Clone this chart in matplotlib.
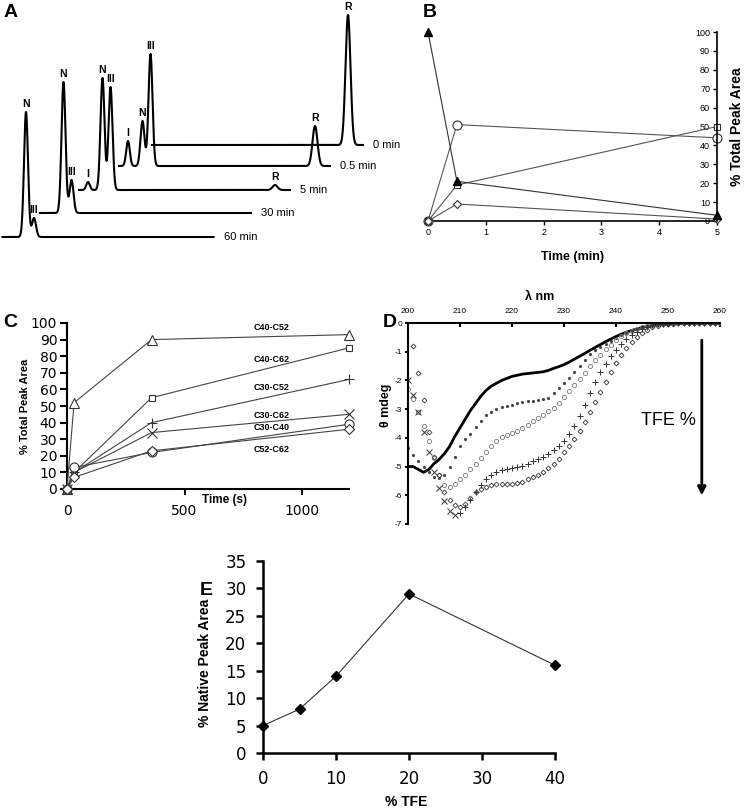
import matplotlib
matplotlib.use('Agg')
import matplotlib.pyplot as plt
import numpy as np

plt.rcParams['font.family'] = ['Liberation Sans', 'DejaVu Sans']
plt.rcParams['axes.unicode_minus'] = False

# ---- panel A: chromatograms (peak table per time point) ----
trace_names = ['0 min', '0.5 min', '5 min', '30 min', '60 min']
peak_names = ['I', 'N', 'III', 'R']
peak_times = [9, 23.5, 31.5, 196]
peak_widths = [1.8, 2.0, 2.0, 2.5]
peak_heights = [
    [0, 0, 0, 130],
    [25, 45, 112, 40],
    [8, 112, 103, 5],
    [0, 131, 33, 0],
    [0, 125, 19, 0],
]

# ---- panel B ----
b_time = [0, 0.5, 5]
b_filled_tri = [100, 21, 3]
b_circle = [0, 51, 44]
b_square = [0, 19, 50]
b_diamond = [0, 9, 1]

# ---- panel C ----
c_time = [0, 30, 360, 1200]
c_names = ['C40-C52', 'C40-C62', 'C30-C52', 'C30-C62', 'C30-C40', 'C52-C62']
c_values = {
    'C40-C52': [0, 52, 90, 93],
    'C40-C62': [0, 10, 55, 85],
    'C30-C52': [0, 10, 40, 66],
    'C30-C62': [0, 10, 34, 45],
    'C30-C40': [0, 13, 22, 39],
    'C52-C62': [0, 7, 23, 36],
}

# ---- panel D: CD spectra, 200-260 nm ----
d_wl = list(range(200, 261))
d_tfe0 = [-5.0, -5.0, -5.1, -5.2, -5.1, -4.9, -4.75, -4.55, -4.3, -3.95,
          -3.65, -3.35, -3.05, -2.8, -2.55, -2.35, -2.2, -2.1, -2.0, -1.93,
          -1.86, -1.82, -1.78, -1.76, -1.74, -1.72, -1.7, -1.65, -1.58, -1.52,
          -1.45, -1.36, -1.26, -1.16, -1.06, -0.95, -0.85, -0.75, -0.65, -0.56,
          -0.47, -0.39, -0.32, -0.26, -0.21, -0.16, -0.12, -0.09, -0.06, -0.04,
          -0.03, -0.02, -0.02, -0.01, -0.01, 0, 0, 0, 0, 0, 0]
d_tfe1 = [-4.35, -4.6, -4.8, -5.0, -5.2, -5.35, -5.4, -5.3, -5.0, -4.65,
          -4.3, -4.05, -3.85, -3.62, -3.4, -3.22, -3.1, -3.0, -2.93, -2.88,
          -2.84, -2.8, -2.76, -2.72, -2.7, -2.68, -2.66, -2.6, -2.45, -2.28,
          -2.1, -1.9, -1.7, -1.5, -1.28, -1.08, -0.95, -0.83, -0.72, -0.62,
          -0.52, -0.43, -0.35, -0.28, -0.22, -0.17, -0.12, -0.09, -0.06, -0.04,
          -0.03, -0.02, -0.01, 0, 0, 0, 0, 0, 0, 0, 0]
d_tfe2 = [-2.3, -2.65, -3.1, -3.6, -4.1, -4.7, -5.3, -5.65, -5.72, -5.6,
          -5.45, -5.3, -5.1, -4.9, -4.7, -4.5, -4.3, -4.1, -3.98, -3.9,
          -3.84, -3.75, -3.65, -3.55, -3.43, -3.32, -3.2, -3.08, -2.95, -2.78,
          -2.58, -2.38, -2.17, -1.95, -1.73, -1.51, -1.3, -1.1, -0.92, -0.75,
          -0.6, -0.47, -0.36, -0.27, -0.2, -0.14, -0.1, -0.07, -0.05, -0.03,
          -0.02, -0.01, 0, 0, 0, 0, 0, 0, 0, 0, 0]
d_tfe3 = [-2.0, -2.5, -3.1, -3.8, -4.5, -5.2, -5.75, -6.2, -6.55, -6.68,
          -6.6, -6.4, -6.15, -5.9, -5.65, -5.45, -5.28, -5.18, -5.12, -5.08,
          -5.05, -5.02, -4.97, -4.9, -4.82, -4.74, -4.65, -4.55, -4.43, -4.3,
          -4.1, -3.87, -3.58, -3.23, -2.85, -2.45, -2.07, -1.72, -1.42, -1.15,
          -0.93, -0.74, -0.56, -0.42, -0.3, -0.2, -0.13, -0.08, -0.05, -0.03,
          -0.02, -0.01, 0, 0, 0, 0, 0, 0, 0, 0, 0]
d_tfe4 = [np.nan, -0.8, -1.75, -2.67, -3.78, -4.65, -5.3, -5.87, -6.15, -6.34,
          -6.4, -6.3, -6.1, -5.9, -5.78, -5.7, -5.65, -5.62, -5.6, -5.6,
          -5.59, -5.58, -5.52, -5.45, -5.36, -5.28, -5.18, -5.05, -4.9, -4.72,
          -4.5, -4.3, -4.05, -3.77, -3.45, -3.1, -2.75, -2.4, -2.05, -1.72,
          -1.4, -1.12, -0.87, -0.66, -0.48, -0.34, -0.23, -0.15, -0.09, -0.05,
          -0.03, -0.02, -0.01, 0, 0, 0, 0, 0, 0, 0, 0]

# ---- panel E ----
e_tfe = [0, 5, 10, 20, 40]
e_native = [5, 8, 14, 29, 16]

W, H = 745, 809
fig = plt.figure(figsize=(W / 100, H / 100), dpi=100)


def px_axes(left, top, right, bottom):
    return fig.add_axes([left / W, 1 - bottom / H, (right - left) / W, (bottom - top) / H])


# layout of the stacked traces (x shift / baseline, in panel pixels)
trace_shift = [152, 119, 79, 40, 2.5]
trace_base = [100, 79, 55, 32, 8]

axA = px_axes(0, 0, 380, 245)
axA.set_xlim(0, 380)
axA.set_ylim(0, 245)
axA.axis('off')
rt = np.linspace(0, 211, 1500)
for name, heights, xs, yb in zip(trace_names, peak_heights, trace_shift, trace_base):
    sig = np.zeros_like(rt)
    for t, w, h in zip(peak_times, peak_widths, heights):
        sig += h * np.exp(-(rt - t) ** 2 / (2 * w ** 2))
    axA.plot(rt + xs, sig + yb, color='black', lw=1.5)
    for pn, t, h in zip(peak_names, peak_times, heights):
        if h > 0:
            axA.text(t + xs, yb + h + 3, pn, ha='center', va='bottom',
                     fontsize=7.5, fontweight='bold')
    axA.text(211 + xs + 10, yb, name, ha='left', va='center', fontsize=8)

# panel B
axB = px_axes(428, 32, 717, 221)
gray = '#555555'
axB.plot(b_time, b_circle, color=gray, lw=0.8, marker='o', ms=6.5, mfc='white',
         mec='#333333', mew=0.8, clip_on=False, zorder=3)
axB.plot(b_time, b_square, color=gray, lw=0.8, marker='s', ms=5, mfc='white',
         mec='#333333', mew=0.8, clip_on=False, zorder=3)
axB.plot(b_time, b_diamond, color=gray, lw=0.8, marker='D', ms=4.5, mfc='white',
         mec='#333333', mew=0.8, clip_on=False, zorder=3)
axB.plot(b_time, b_filled_tri, color='#333333', lw=0.8, marker='^', ms=5.5,
         mfc='black', mec='black', clip_on=False, zorder=4)
axB.set_xlim(0, 5)
axB.set_ylim(0, 100)
axB.spines['top'].set_visible(False)
axB.spines['right'].set_visible(False)
axB.spines['left'].set_position(('data', 5))
axB.spines['left'].set_zorder(5)
axB.spines['left'].set_linewidth(1.2)
axB.spines['bottom'].set_linewidth(1.2)
axB.set_xticks(range(0, 6))
axB.set_yticks(range(0, 101, 10))
axB.tick_params(labelsize=6.5, length=3, width=1, pad=2)
axB.text(0.5, -0.19, 'Time (min)', transform=axB.transAxes, ha='center',
         va='center', fontsize=9, fontweight='bold')
axB.text(1.07, 0.5, '% Total Peak Area', transform=axB.transAxes, ha='center',
         va='center', rotation=90, fontsize=10, fontweight='bold')

# panel C
axC = px_axes(67, 323, 349, 489)
c_markers = ['^', 's', '+', 'x', 'o', 'D']
c_sizes = [7.5, 4.5, 7, 7, 6.5, 5]
c_label_y = [97, 78, 61, 44, 37, 24]
for name, m, s in zip(c_names, c_markers, c_sizes):
    axC.plot(c_time, c_values[name], color='#444444', lw=0.8, marker=m, ms=s,
             mfc='white', mec='#333333', mew=0.8, clip_on=False, zorder=3)
for name, ly in zip(c_names, c_label_y):
    axC.text(872, ly, name, ha='center', va='center', fontsize=6.5,
             fontweight='bold')
axC.set_xlim(0, 1200)
axC.set_ylim(0, 100)
axC.spines['top'].set_visible(False)
axC.spines['right'].set_visible(False)
for sp in ('left', 'bottom'):
    axC.spines[sp].set_linewidth(1.5)
axC.set_xticks([0, 500, 1000])
axC.set_yticks(range(0, 101, 10))
axC.tick_params(axis='y', length=5, width=1.5, pad=2)
axC.tick_params(axis='x', length=4, width=1.5, pad=7)
for lab in axC.get_xticklabels() + axC.get_yticklabels():
    lab.set_fontfamily('DejaVu Sans')
    lab.set_fontsize(10)
axC.text(0.56, -0.068, 'Time (s)', transform=axC.transAxes, ha='center',
         va='center', fontsize=8.5, fontweight='bold')
axC.text(-0.15, 0.5, '% Total Peak Area', transform=axC.transAxes, ha='center',
         va='center', rotation=90, fontsize=8, fontweight='bold')

# panel D
axD = px_axes(408, 323, 720, 524)
wl = np.array(d_wl)
axD.plot(wl, d_tfe0, color='black', lw=2)
axD.plot(wl, d_tfe1, ls='none', marker='.', ms=2.5, color='#444444')
axD.plot(wl, d_tfe2, ls='none', marker='o', ms=3, mfc='none', mec='#777777',
         mew=0.6)
cut = 10
axD.plot(wl[:cut], d_tfe3[:cut], ls='none', marker='x', ms=4, color='#333333',
         mew=0.7)
axD.plot(wl[cut:], d_tfe3[cut:], ls='none', marker='+', ms=4.5, color='#333333',
         mew=0.7)
axD.plot(wl, d_tfe4, ls='none', marker='D', ms=2.5, mfc='none', mec='#333333',
         mew=0.6)
axD.set_xlim(200, 260)
axD.set_ylim(-7, 0)
axD.spines['right'].set_visible(False)
axD.spines['bottom'].set_visible(False)
axD.spines['top'].set_linewidth(1.5)
axD.spines['left'].set_linewidth(1.5)
axD.xaxis.tick_top()
axD.set_xticks(range(200, 261, 10))
axD.set_yticks(range(-7, 1))
axD.tick_params(axis='x', direction='in', length=3, width=1.5, labelsize=6, pad=6)
axD.tick_params(axis='y', direction='out', length=2, width=1.5, labelsize=6, pad=2)
axD.annotate('', xy=(256.5, -6.1), xytext=(256.5, -0.5),
             arrowprops=dict(arrowstyle='-|>', color='black', lw=2,
                             mutation_scale=12))
axD.text(250.0, -3.38, 'TFE %', ha='center', va='center', fontsize=13)
fig.text(540 / W, 1 - 297 / H, 'λ nm', ha='center', va='center', fontsize=9,
         fontweight='bold')
fig.text(386 / W, 1 - 405 / H, 'θ mdeg', ha='center', va='center', rotation=90,
         fontsize=9, fontweight='bold')

# panel E
axE = px_axes(263, 561, 555, 753)
axE.plot(e_tfe, e_native, color='#333333', lw=0.8, marker='D', ms=5.5,
         mfc='black', mec='black', clip_on=False, zorder=3)
axE.set_xlim(0, 40)
axE.set_ylim(0, 35)
axE.spines['top'].set_visible(False)
axE.spines['right'].set_visible(False)
for sp in ('left', 'bottom'):
    axE.spines[sp].set_linewidth(1.8)
axE.set_xticks(range(0, 41, 10))
axE.set_yticks(range(0, 36, 5))
axE.tick_params(length=5, width=1.8, pad=7)
for lab in axE.get_xticklabels() + axE.get_yticklabels():
    lab.set_fontfamily('DejaVu Sans')
    lab.set_fontsize(12)
axE.text(0.49, -0.255, '% TFE', transform=axE.transAxes, ha='center',
         va='center', fontsize=10, fontweight='bold')
axE.text(-0.2, 0.47, '% Native Peak Area', transform=axE.transAxes, ha='center',
         va='center', rotation=90, fontsize=10, fontweight='bold')

# panel letters
for letter, x, y in [('A', 4, 4), ('B', 423, 4), ('C', 3, 314), ('D', 383, 314),
                     ('E', 200, 582)]:
    fig.text(x / W, 1 - y / H, letter, ha='left', va='top', fontsize=14,
             fontweight='bold')

fig.savefig('out.png', dpi=100, facecolor='white')
